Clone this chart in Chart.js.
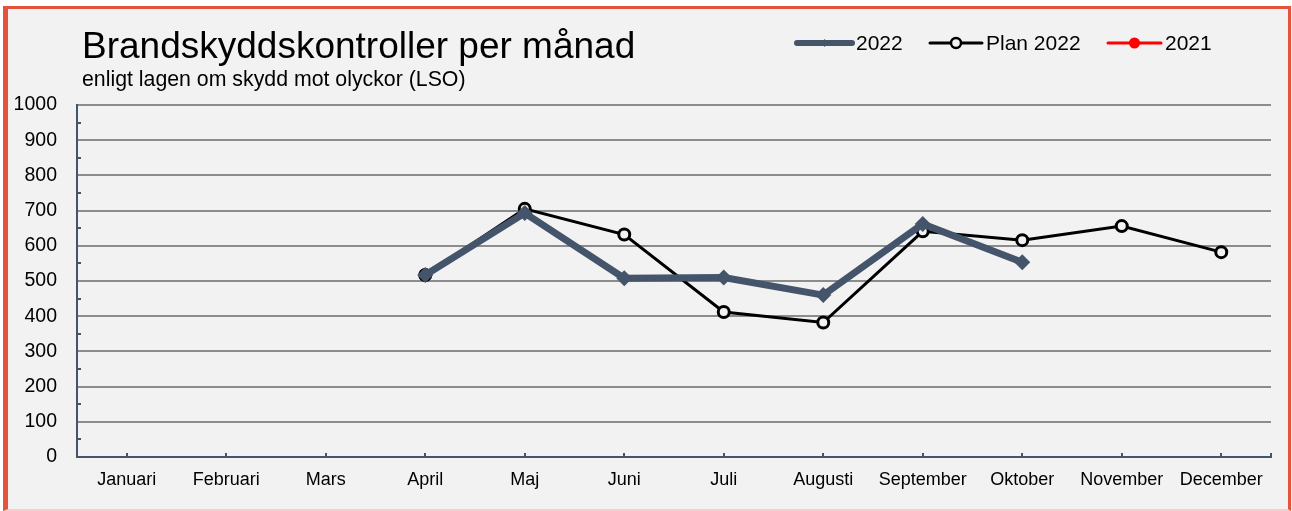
<!DOCTYPE html>
<html>
<head>
<meta charset="utf-8">
<script src="https://cdn.jsdelivr.net/npm/chart.js@4.4.1/dist/chart.umd.min.js"></script>
<style>
  html, body { margin: 0; padding: 0; background: #ffffff; }
  #wrap { position: relative; width: 1292px; height: 511px; background: #F2F2F2; }
  #frame {
    position: absolute; left: 3px; top: 6px; width: 1288px; height: 505px;
    box-sizing: border-box; pointer-events: none;
    border-left: 5px solid #E5533C; border-top: 3px solid #E5533C;
    border-right: 3px solid #E5533C; border-bottom: 2px solid #F5D0CB;
  }
  #outer { position: absolute; left: 0; top: 0; width: 1292px; height: 6px; background: #fff; }
  #outerL { position: absolute; left: 0; top: 0; width: 3px; height: 511px; background: #fff; }
  canvas { position: absolute; left: 0; top: 0; }
</style>
</head>
<body>
<div id="wrap">
  <canvas id="chart" width="1292" height="511"></canvas>
  <div id="outer"></div>
  <div id="outerL"></div>
  <div id="frame"></div>
</div>
<script>
const months = ["Januari", "Februari", "Mars", "April", "Maj", "Juni", "Juli",
  "Augusti", "September", "Oktober", "November", "December"];
const actual2022 = [null, null, null, 517, 693, 508, 510, 460, 662, 553, null, null];
const plan2022 = [null, null, null, 517, 705, 632, 412, 382, 641, 616, 656, 582];
const actual2021 = [null, null, null, null, null, null, null, null, null, null, null, null];

const titleText = "Brandskyddskontroller per månad";
const subtitleText = "enligt lagen om skydd mot olyckor (LSO)";
const fontFamily = "Arial, 'Liberation Sans', sans-serif";
const axisColor = "#44546A";

// Title, subtitle and legend row drawn on the canvas
const headerPlugin = {
  id: "header",
  afterDraw(chart) {
    const ctx = chart.ctx;
    ctx.save();
    ctx.fillStyle = "#000";
    ctx.textBaseline = "alphabetic";
    ctx.textAlign = "left";
    ctx.font = `37px ${fontFamily}`;
    ctx.fillText(titleText, 82, 58);
    ctx.font = `21.3px ${fontFamily}`;
    ctx.fillText(subtitleText, 82, 86);

    const items = [
      { x: 797, w: 55, label: "2022", color: axisColor, lw: 6, marker: "diamond" },
      { x: 930, w: 52, label: "Plan 2022", color: "#000", lw: 3, marker: "circle" },
      { x: 1108, w: 53, label: "2021", color: "#FF0000", lw: 3, marker: "dot" },
    ];
    const y = 43;
    items.forEach((it) => {
      ctx.strokeStyle = it.color;
      ctx.lineWidth = it.lw;
      ctx.lineCap = "round";
      ctx.beginPath();
      ctx.moveTo(it.x, y);
      ctx.lineTo(it.x + it.w, y);
      ctx.stroke();
      const cx = it.x + it.w / 2;
      if (it.marker === "diamond") {
        ctx.fillStyle = it.color;
        ctx.beginPath();
        ctx.moveTo(cx, y - 4);
        ctx.lineTo(cx + 3, y);
        ctx.lineTo(cx, y + 4);
        ctx.lineTo(cx - 3, y);
        ctx.closePath();
        ctx.fill();
      } else if (it.marker === "circle") {
        ctx.fillStyle = "#F2F2F2";
        ctx.lineWidth = 2.5;
        ctx.beginPath();
        ctx.arc(cx, y, 5, 0, Math.PI * 2);
        ctx.fill();
        ctx.stroke();
      } else {
        ctx.fillStyle = it.color;
        ctx.beginPath();
        ctx.arc(cx, y, 5.5, 0, Math.PI * 2);
        ctx.fill();
      }
      ctx.fillStyle = "#000";
      ctx.font = `21px ${fontFamily}`;
      ctx.textBaseline = "middle";
      ctx.fillText(it.label, it.x + it.w + 4, y + 1);
    });
    ctx.restore();
  },
};

// Small ticks: minor y ticks at 50s, x ticks at category centres
const ticksPlugin = {
  id: "smallTicks",
  afterDatasetsDraw(chart) {
    const { ctx, chartArea, scales } = chart;
    ctx.save();
    ctx.strokeStyle = axisColor;
    ctx.lineWidth = 2;
    ctx.beginPath();
    for (let v = 50; v < 1000; v += 100) {
      const y = Math.round(scales.y.getPixelForValue(v));
      ctx.moveTo(chartArea.left, y);
      ctx.lineTo(chartArea.left + 4, y);
    }
    months.forEach((m, i) => {
      const x = Math.round(scales.x.getPixelForValue(i));
      ctx.moveTo(x, chartArea.bottom);
      ctx.lineTo(x, chartArea.bottom - 4);
    });
    ctx.moveTo(chartArea.right, chartArea.bottom);
    ctx.lineTo(chartArea.right, chartArea.bottom - 4);
    ctx.stroke();
    ctx.restore();
  },
};

new Chart(document.getElementById("chart"), {
  type: "line",
  data: {
    labels: months,
    datasets: [
      {
        label: "2022",
        data: actual2022,
        borderColor: axisColor,
        backgroundColor: axisColor,
        borderWidth: 7,
        pointStyle: "rectRot",
        pointRadius: 8,
        pointBorderWidth: 0,
        tension: 0,
      },
      {
        label: "Plan 2022",
        data: plan2022,
        borderColor: "#000",
        backgroundColor: "#F2F2F2",
        borderWidth: 3,
        pointStyle: "circle",
        pointRadius: 5.5,
        pointBorderWidth: 3,
        tension: 0,
      },
      {
        label: "2021",
        data: actual2021,
        borderColor: "#FF0000",
        backgroundColor: "#FF0000",
        borderWidth: 3,
        pointRadius: 5,
      },
    ],
  },
  options: {
    responsive: false,
    animation: false,
    spanGaps: false,
    layout: { padding: { top: 105, right: 21, left: 0, bottom: 0 } },
    plugins: {
      legend: { display: false },
      title: { display: false },
      tooltip: { enabled: false },
    },
    scales: {
      x: {
        offset: true,
        grid: { display: false, drawTicks: false },
        border: { color: axisColor, width: 2 },
        ticks: {
          color: "#000",
          font: { family: fontFamily, size: 18 },
          padding: 12,
          maxRotation: 0,
          autoSkip: false,
        },
        afterFit(scale) { scale.height = 54; },
      },
      y: {
        min: 0,
        max: 1000,
        ticks: {
          stepSize: 100,
          color: "#000",
          font: { family: fontFamily, size: 19.5 },
          padding: 20,
          callback: (v) => String(v),
        },
        grid: { color: "#8C8C8C", lineWidth: 2, drawTicks: false },
        border: { color: axisColor, width: 2 },
        afterFit(scale) { scale.width = 77; },
      },
    },
  },
  plugins: [headerPlugin, ticksPlugin],
});
</script>
</body>
</html>
